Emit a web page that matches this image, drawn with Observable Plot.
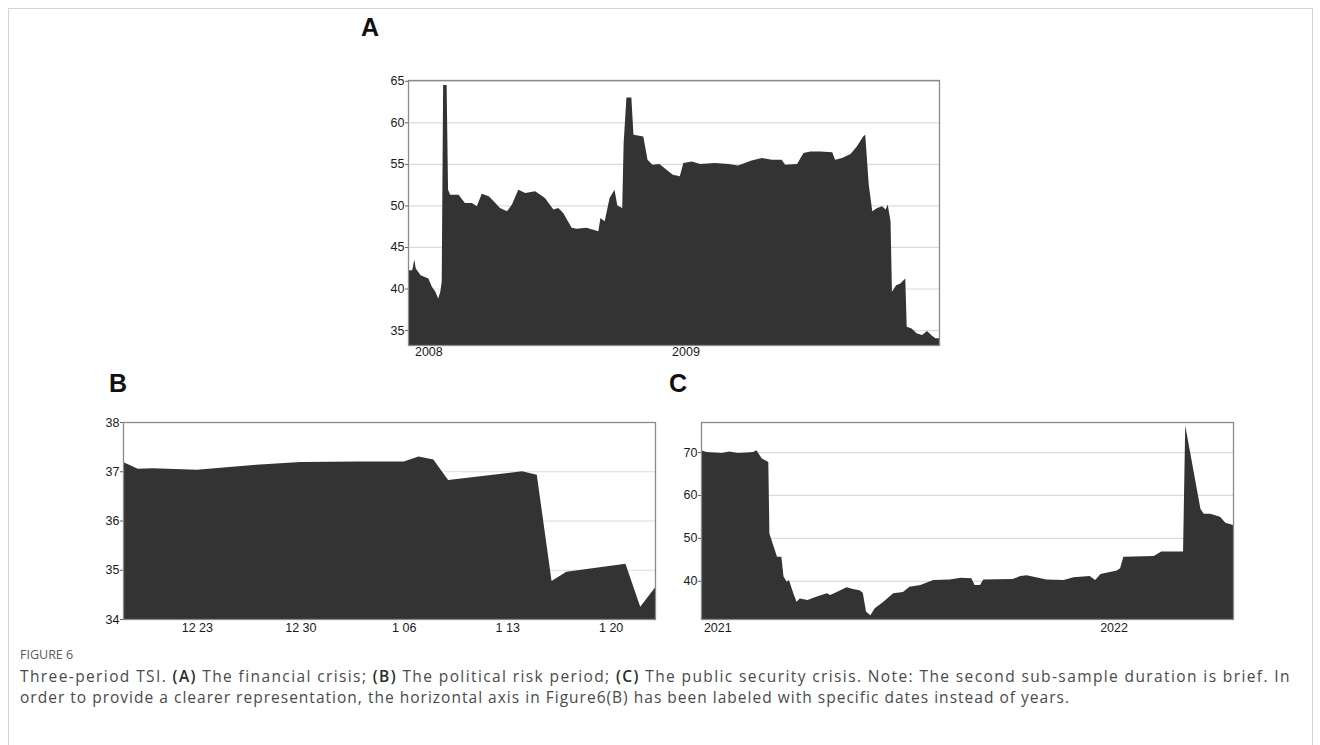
<!DOCTYPE html>
<html>
<head>
<meta charset="utf-8">
<script src="https://cdn.jsdelivr.net/npm/d3@7"></script>
<script src="https://cdn.jsdelivr.net/npm/@observablehq/plot@0.6"></script>
<style>
  html, body { margin: 0; padding: 0; background: #fff; }
  #root { position: relative; width: 1320px; height: 745px; overflow: hidden; }
  .abs { position: absolute; }
  .letter { font-family: "Liberation Sans", Arial, sans-serif; font-weight: bold; font-size: 25px; line-height: 25px; color: #111; }
  .cap { font-family: "Open Sans", sans-serif; white-space: nowrap; color: #4a4a4a; line-height: 19px; }
  .cap b { font-weight: 600; color: #2a2a2a; }
  #border { border: 1px solid #d4d4d4; }
</style>
</head>
<body>
<div id="root">
  <div id="border" class="abs" style="left:8px;top:8px;width:1303px;height:800px;"></div>
  <div class="abs letter" style="left:361px;top:15px;">A</div>
  <div class="abs letter" style="left:109px;top:371px;">B</div>
  <div class="abs letter" style="left:669px;top:371px;">C</div>
  <div id="pa" class="abs" style="left:368px;top:70px;"></div>
  <div id="pb" class="abs" style="left:83px;top:412px;"></div>
  <div id="pc" class="abs" style="left:661px;top:412px;"></div>
  <div id="fig" class="abs cap" style="left:20px;top:647px;font-size:12.5px;color:#5a5a5a;line-height:16px;">FIGURE 6</div>
  <div id="l1" class="abs cap" style="left:20px;top:667px;font-size:15.5px;">Three-period TSI. <b>(A)</b> The financial crisis; <b>(B)</b> The political risk period; <b>(C)</b> The public security crisis. Note: The second sub-sample duration is brief. In</div>
  <div id="l2" class="abs cap" style="left:20px;top:688px;font-size:15.5px;">order to provide a clearer representation, the horizontal axis in Figure6(B) has been labeled with specific dates instead of years.</div>
</div>
<script>
// ---- Panel A: financial crisis ----
const aDates = ["2007-12-03","2007-12-09","2007-12-12","2007-12-14","2007-12-21","2008-01-01","2008-01-06","2008-01-11","2008-01-15","2008-01-18","2008-01-20","2008-01-22","2008-01-27","2008-01-29","2008-02-01","2008-02-13","2008-02-22","2008-03-03","2008-03-10","2008-03-17","2008-03-27","2008-04-03","2008-04-12","2008-04-22","2008-04-29","2008-05-08","2008-05-18","2008-06-01","2008-06-15","2008-06-27","2008-07-04","2008-07-11","2008-07-23","2008-07-30","2008-08-13","2008-08-30","2008-09-02","2008-09-08","2008-09-15","2008-09-22","2008-09-26","2008-10-03","2008-10-05","2008-10-09","2008-10-16","2008-10-19","2008-11-02","2008-11-08","2008-11-15","2008-11-25","2008-12-05","2008-12-14","2008-12-24","2008-12-29","2009-01-10","2009-01-22","2009-02-12","2009-03-03","2009-03-17","2009-04-05","2009-04-20","2009-05-04","2009-05-18","2009-05-23","2009-06-09","2009-06-18","2009-06-28","2009-07-12","2009-07-29","2009-08-02","2009-08-12","2009-08-24","2009-09-02","2009-09-11","2009-09-14","2009-09-19","2009-09-24","2009-10-01","2009-10-08","2009-10-13","2009-10-16","2009-10-20","2009-10-22","2009-10-28","2009-11-03","2009-11-10","2009-11-12","2009-11-19","2009-11-26","2009-12-04","2009-12-11","2009-12-18","2009-12-23","2009-12-28"];
const aValues = [42.2,42.2,43.5,42.4,41.6,41.2,40.2,39.6,38.8,39.6,40.8,64.5,64.5,51.9,51.3,51.3,50.3,50.3,49.9,51.4,51.1,50.5,49.7,49.3,50.1,51.9,51.5,51.7,50.9,49.5,49.7,49.1,47.3,47.2,47.3,46.9,48.5,48.1,50.9,51.9,50.0,49.7,57.5,63.0,63.0,58.5,58.3,55.5,54.9,55.0,54.3,53.7,53.5,55.1,55.3,55.0,55.1,55.0,54.8,55.4,55.7,55.5,55.5,54.9,55.0,56.3,56.5,56.5,56.4,55.5,55.7,56.2,57.1,58.3,58.5,52.5,49.3,49.7,49.9,49.5,50.1,48.1,39.6,40.4,40.6,41.2,35.4,35.2,34.6,34.4,34.9,34.3,34.0,34.0];
const aXTicks = ["2008-01-01","2009-01-01"];
const aYTicks = [35,40,45,50,55,60,65];

// ---- Panel B: political risk period ----
const bDates = ["2019-12-18","2019-12-19","2019-12-20","2019-12-23","2019-12-27","2019-12-30","2020-01-03","2020-01-06","2020-01-07","2020-01-08","2020-01-09","2020-01-14","2020-01-15","2020-01-16","2020-01-17","2020-01-21","2020-01-22","2020-01-23"];
const bValues = [37.19,37.05,37.06,37.03,37.13,37.19,37.20,37.20,37.30,37.24,36.82,37.00,36.93,34.77,34.96,35.12,34.25,34.64];
const bXTicks = ["2019-12-23","2019-12-30","2020-01-06","2020-01-13","2020-01-20"];
const bYTicks = [34,35,36,37,38];

// ---- Panel C: public security crisis ----
const cDates = ["2020-12-17","2020-12-22","2021-01-05","2021-01-12","2021-01-20","2021-01-28","2021-02-03","2021-02-06","2021-02-11","2021-02-17","2021-02-18","2021-02-21","2021-02-25","2021-03-01","2021-03-03","2021-03-06","2021-03-08","2021-03-12","2021-03-15","2021-03-18","2021-03-25","2021-04-02","2021-04-12","2021-04-15","2021-04-21","2021-04-30","2021-05-06","2021-05-12","2021-05-15","2021-05-18","2021-05-22","2021-05-26","2021-06-03","2021-06-12","2021-06-21","2021-06-27","2021-07-07","2021-07-19","2021-08-03","2021-08-13","2021-08-23","2021-08-26","2021-08-31","2021-09-03","2021-09-30","2021-10-07","2021-10-13","2021-10-31","2021-11-16","2021-11-25","2021-12-10","2021-12-15","2021-12-20","2022-01-04","2022-01-07","2022-01-10","2022-02-07","2022-02-14","2022-03-06","2022-03-08","2022-03-22","2022-03-25","2022-03-31","2022-04-09","2022-04-14","2022-04-21"];
const cValues = [70.4,70.0,69.8,70.1,69.8,69.9,70.0,70.4,68.5,67.7,51.0,48.7,45.6,45.6,41.0,39.8,40.2,37.1,35.1,35.9,35.5,36.3,37.1,36.7,37.4,38.5,38.1,37.8,37.2,32.8,32.0,33.6,35.1,37.1,37.4,38.6,39.0,40.2,40.3,40.7,40.6,39.0,39.0,40.3,40.4,41.1,41.3,40.3,40.2,40.8,41.1,40.2,41.6,42.4,42.9,45.6,45.8,46.8,46.8,76.2,56.8,55.6,55.6,54.9,53.5,53.0];
const cXTicks = ["2021-01-01","2022-01-01"];
const cYTicks = [40,50,60,70];

const toDate = s => new Date(s + "T00:00:00Z");

function panel({dates, values, xDomain, xTicks, xFormat, yDomain, yTicks, width, height, xPad}) {
  const data = dates.map((d, i) => ({date: toDate(d), value: values[i]}));
  const ymin = yDomain[0];
  return Plot.plot({
    width, height,
    marginLeft: 40, marginRight: 10, marginTop: 10, marginBottom: 25,
    style: {fontFamily: "'Liberation Sans', Arial, sans-serif", fontSize: "12.5px", color: "#1a1a1a", background: "transparent", overflow: "visible"},
    x: {type: "utc", domain: xDomain.map(toDate)},
    y: {domain: yDomain},
    marks: [
      Plot.gridY(yTicks, {stroke: "#dcdcdc", strokeOpacity: 1, strokeWidth: 1.2}),
      Plot.areaY(data, {x: "date", y1: ymin, y2: "value", fill: "#333333", curve: "linear"}),
      Plot.frame({stroke: "#8a8a8a", strokeWidth: 1.3}),
      Plot.axisY(yTicks, {tickSize: 3, tickPadding: 1, stroke: "#666", fill: "#1a1a1a", fontSize: 12.5, label: null}),
      Plot.axisX(xTicks.map(toDate), {tickSize: 0, tickPadding: xPad, tickFormat: xFormat, fill: "#1a1a1a", fontSize: 12.5, label: null})
    ]
  });
}

document.getElementById("pa").appendChild(panel({
  dates: aDates, values: aValues,
  xDomain: ["2007-12-03", "2009-12-28"], xTicks: aXTicks, xFormat: d3.utcFormat("%Y"),
  yDomain: [33.2, 65.1], yTicks: aYTicks, width: 581, height: 300, xPad: 2
}));
document.getElementById("pb").appendChild(panel({
  dates: bDates, values: bValues,
  xDomain: ["2019-12-18", "2020-01-23"], xTicks: bXTicks, xFormat: d3.utcFormat("%-m %d"),
  yDomain: [34, 38], yTicks: bYTicks, width: 582, height: 232, xPad: 4
}));
document.getElementById("pc").appendChild(panel({
  dates: cDates, values: cValues,
  xDomain: ["2020-12-17", "2022-04-21"], xTicks: cXTicks, xFormat: d3.utcFormat("%Y"),
  yDomain: [31.1, 77], yTicks: cYTicks, width: 582, height: 232, xPad: 4
}));

// fit each caption line to its width in the reference using letter spacing
function fitLine(id, target) {
  const el = document.getElementById(id);
  const w = el.getBoundingClientRect().width;
  const n = el.textContent.length;
  el.style.letterSpacing = ((target - w) / n) + "px";
}
fitLine("l1", 1271);
fitLine("l2", 1050);
</script>
</body>
</html>
